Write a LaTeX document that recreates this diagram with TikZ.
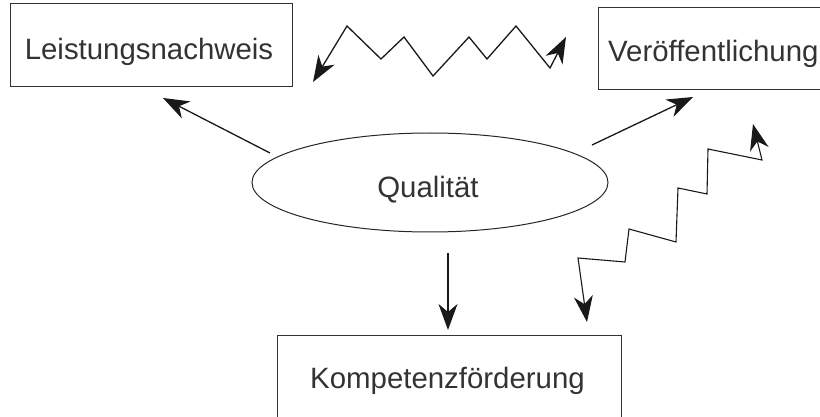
\documentclass[tikz,border=0pt]{standalone}
\usepackage{fontspec}
\setmainfont{Liberation Sans}
\usetikzlibrary{arrows.meta,shapes.geometric}
\begin{document}
\begin{tikzpicture}[x=1pt,y=-1pt,
  box/.style={draw=black!80, line width=1pt, rectangle, inner sep=0pt},
  lbl/.style={font=\fontsize{29.4}{32}\selectfont, text=black!80, inner sep=0pt, anchor=base},
  headtip/.style={-{Stealth[length=26pt,width=19pt,inset=8pt]}},
  conn/.style={draw=black!90, line width=1.3pt, line join=miter, headtip},
  both/.style={draw=black!90, line join=miter,
    {Stealth[length=26pt,width=19pt,inset=8pt]}-{Stealth[length=26pt,width=19pt,inset=8pt]}}]
\useasboundingbox (0,0) rectangle (820,417);
\clip (0,0) rectangle (820,417);
% boxes
\node[box, minimum width=282pt, minimum height=83pt] (L) at (151,45.5) {};
\node[box, minimum width=240pt, minimum height=82pt] (V) at (718,49) {};
\node[box, minimum width=344pt, minimum height=100pt] (K) at (449,385) {};
\node[draw=black!85, line width=1pt, ellipse, inner sep=0pt,
      minimum width=356pt, minimum height=99pt] (Q) at (430,182.5) {};
% texts
\node[lbl] (Lt) at (149,60) {Leistungsnachweis};
\node[lbl, anchor=base west] (Vt) at (608,62) {Veröffentlichung};
\node[lbl] (Qt) at (428,197) {Qualität};
\node[lbl] (Kt) at (447.5,388) {Kompetenzförderung};
% connector end points
\coordinate (a1) at (270,153); \coordinate (a2) at (163,98);
\coordinate (b1) at (592,145); \coordinate (b2) at (693,97);
\coordinate (c1) at (448,253); \coordinate (c2) at (448,330);
% straight arrows
\draw[conn] (a1) -- (a2);
\draw[conn] (b1) -- (b2);
\draw[conn] (c1) -- (c2);
% top zigzag (double headed)
\coordinate (z0) at (313,82);
\coordinate (z1) at (347,26);
\coordinate (z2) at (381,59);
\coordinate (z3) at (404,37);
\coordinate (z4) at (433,76);
\coordinate (z5) at (469,37);
\coordinate (z6) at (487,59);
\coordinate (z7) at (516,26);
\coordinate (z8) at (550,68);
\coordinate (z9) at (566,37);
\draw[both, line width=1.3pt]
  (z0) -- (z1) -- (z2) -- (z3) -- (z4) -- (z5) -- (z6) -- (z7) -- (z8) -- (z9);
% staircase zigzag (double headed)
\coordinate (s0) at (587,322);
\coordinate (s1) at (578,258);
\coordinate (s2) at (625,262);
\coordinate (s3) at (629,229);
\coordinate (s4) at (676,242);
\coordinate (s5) at (678,188);
\coordinate (s6) at (707,194);
\coordinate (s7) at (708,149);
\coordinate (s8) at (762,160);
\coordinate (s9) at (753,124);
\draw[both, line width=1.1pt]
  (s0) -- (s1) -- (s2) -- (s3) -- (s4) -- (s5) -- (s6) -- (s7) -- (s8) -- (s9);
\end{tikzpicture}
\end{document}
